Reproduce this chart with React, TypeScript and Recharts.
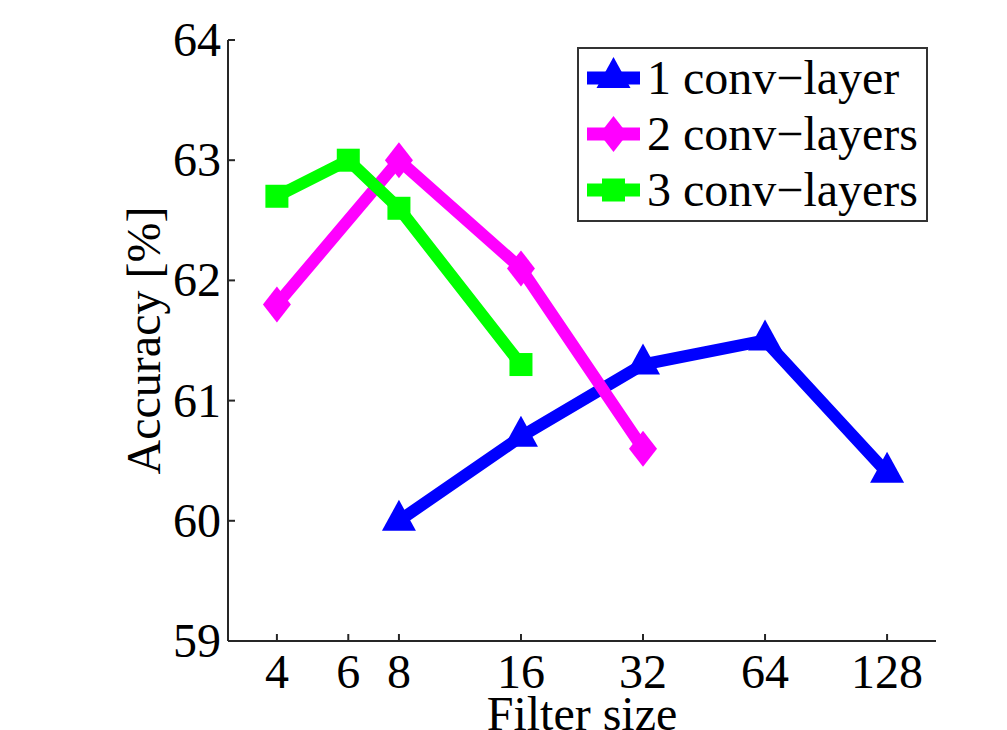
import React from 'react'
import { LineChart, Line, XAxis, YAxis, Legend } from 'recharts'

// Accuracy vs. filter size, one array per series
const filterSizes1 = [8, 16, 32, 64, 128]
const accuracy1 = [60.0, 60.7, 61.3, 61.5, 60.4]
const filterSizes2 = [4, 8, 16, 32]
const accuracy2 = [61.8, 63.0, 62.1, 60.6]
const filterSizes3 = [4, 6, 8, 16]
const accuracy3 = [62.7, 63.0, 62.6, 61.3]

const xTicks = [4, 6, 8, 16, 32, 64, 128]
const yTicks = [59, 60, 61, 62, 63, 64]
const seriesNames = ['1 conv\u2212layer', '2 conv\u2212layers', '3 conv\u2212layers']
const seriesColors = ['#0000ff', '#ff00ff', '#00ff00']
const seriesShapes = ['triangle', 'diamond', 'square']

const FONT = '"Liberation Serif", "Times New Roman", serif'
const AXIS_COLOR = '#262626'

const toPoints = (xs: number[], ys: number[]) => xs.map((x, i) => ({ x, y: ys[i] }))
const series = [
  toPoints(filterSizes1, accuracy1),
  toPoints(filterSizes2, accuracy2),
  toPoints(filterSizes3, accuracy3),
]

function Marker({ shape, cx, cy, color }: { shape: string; cx: number; cy: number; color: string }) {
  if (shape === 'triangle') {
    return <polygon points={`${cx},${cy - 21} ${cx + 17},${cy + 10} ${cx - 17},${cy + 10}`} fill={color} />
  }
  if (shape === 'diamond') {
    return <polygon points={`${cx},${cy - 18} ${cx + 14},${cy} ${cx},${cy + 18} ${cx - 14},${cy}`} fill={color} />
  }
  return <rect x={cx - 11.5} y={cy - 11.5} width={23} height={23} fill={color} />
}

function XTick({ x, y, payload }: any) {
  return (
    <text x={x} y={y} textAnchor="middle" fontFamily={FONT} fontSize={48} fill="#000">
      {payload.value}
    </text>
  )
}

function YTick({ x, y, payload }: any) {
  return (
    <text x={x} y={y} dy={16} textAnchor="end" fontFamily={FONT} fontSize={48} fill="#000">
      {payload.value}
    </text>
  )
}

function XTitle({ viewBox }: any) {
  return (
    <text x={viewBox.x + viewBox.width / 2} y={viewBox.y + 89} textAnchor="middle" fontFamily={FONT} fontSize={48} fill="#000">
      Filter size
    </text>
  )
}

function YTitle({ viewBox }: any) {
  const x = viewBox.x + 32
  const y = viewBox.y + viewBox.height / 2
  return (
    <text x={x} y={y} transform={`rotate(-90 ${x} ${y})`} textAnchor="middle" fontFamily={FONT} fontSize={48} fill="#000">
      Accuracy [%]
    </text>
  )
}

function LegendBox() {
  return (
    <svg width={351} height={175} style={{ display: 'block' }}>
      <rect x={1} y={1} width={349} height={173} fill="#fff" stroke="#333" strokeWidth={2} />
      {seriesNames.map((name, i) => {
        const cy = 31 + i * 56
        return (
          <g key={name}>
            <line x1={10} x2={63} y1={cy} y2={cy} stroke={seriesColors[i]} strokeWidth={13} />
            <Marker shape={seriesShapes[i]} cx={36.5} cy={cy} color={seriesColors[i]} />
            <text x={70} y={cy + 16} fontFamily={FONT} fontSize={48} fill="#000">
              {name}
            </text>
          </g>
        )
      })}
    </svg>
  )
}

export default function App() {
  return (
    <div style={{ position: 'absolute', left: 0, top: 0, width: 1007, height: 730, background: '#fff' }}>
      <LineChart width={1007} height={730} margin={{ top: 40, right: 71, bottom: 0, left: 128 }}>
        <XAxis
          xAxisId="bottom"
          dataKey="x"
          type="number"
          scale="log"
          domain={[3.03, 169]}
          allowDataOverflow
          ticks={xTicks}
          interval={0}
          height={89}
          stroke={AXIS_COLOR}
          strokeWidth={2}
          tickSize={-7}
          tickMargin={54}
          tick={<XTick />}
          label={<XTitle />}
        />
        <XAxis
          xAxisId="top"
          orientation="top"
          dataKey="x"
          type="number"
          scale="log"
          domain={[3.03, 169]}
          allowDataOverflow
          ticks={xTicks}
          interval={0}
          height={0}
          stroke={AXIS_COLOR}
          strokeWidth={2}
          tickSize={-7}
          tick={false}
        />
        <YAxis
          yAxisId="left"
          type="number"
          domain={[59, 64]}
          ticks={yTicks}
          interval={0}
          width={100}
          stroke={AXIS_COLOR}
          strokeWidth={2}
          tickSize={-7}
          tickMargin={14}
          tick={<YTick />}
          label={<YTitle />}
        />
        <YAxis
          yAxisId="right"
          orientation="right"
          type="number"
          domain={[59, 64]}
          ticks={yTicks}
          interval={0}
          width={0}
          stroke={AXIS_COLOR}
          strokeWidth={2}
          tickSize={-7}
          tick={false}
        />
        <Legend
          layout="horizontal"
          verticalAlign="middle"
          align="center"
          content={() => <LegendBox />}
          wrapperStyle={{ left: 577, top: 47, width: 351, height: 175 }}
        />
        {series.map((data, i) => (
          <Line
            key={seriesNames[i]}
            xAxisId="bottom"
            yAxisId="left"
            data={data}
            dataKey="y"
            name={seriesNames[i]}
            type="linear"
            stroke={seriesColors[i]}
            strokeWidth={12}
            isAnimationActive={false}
            dot={(p: any) => (
              <Marker key={`${i}-${p.index}`} shape={seriesShapes[i]} cx={p.cx} cy={p.cy} color={seriesColors[i]} />
            )}
            activeDot={false}
          />
        ))}
      </LineChart>
    </div>
  )
}
